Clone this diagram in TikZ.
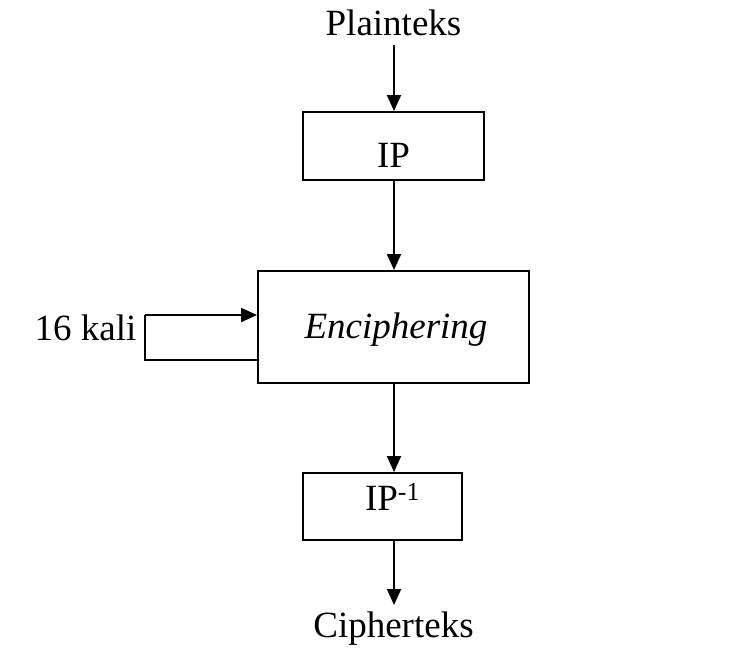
\documentclass[tikz,border=0pt]{standalone}
\usepackage{fontspec}
\setmainfont{Liberation Serif}
\usetikzlibrary{arrows.meta}
\begin{document}
\begin{tikzpicture}[x=1pt,y=-1pt,
  box/.style={draw,line width=2pt,inner sep=0pt,rectangle},
  txt/.style={anchor=base,inner sep=0pt,font=\fontsize{37}{44}\selectfont},
  conn/.style={line width=2pt,-{Triangle[length=16pt,width=14pt]}},
  plain/.style={line width=2pt}]
\useasboundingbox (0,0) rectangle (752,657);
% boxes
\node[box,minimum width=181pt,minimum height=68pt] (ip) at (393.5,146) {};
\node[box,minimum width=271pt,minimum height=112pt] (enc) at (393.5,327) {};
\node[box,minimum width=159pt,minimum height=67pt] (ipinv) at (382.5,506.5) {};
% texts
\node[txt] (plaintxt) at (393.5,35) {Plainteks};
\node[txt] (iptxt) at (393.5,167) {IP};
\node[txt] (enctxt) at (396,338) {\itshape Enciphering};
\node[txt] (ipinvtxt) at (392.5,510) {IP\textsuperscript{-1}};
\node[txt] (kalitxt) at (85.5,340) {16 kali};
\node[txt] (ciphtxt) at (393.5,637) {Cipherteks};
% coordinates
\coordinate (a0) at (394,45);
\coordinate (c1) at (394,605);
\coordinate (lt) at (145,315);
\coordinate (lb) at (145,360);
% connectors
\draw[conn] (a0) -- (a0 |- ip.north);
\draw[conn] (a0 |- ip.south) -- (a0 |- enc.north);
\draw[conn] (a0 |- enc.south) -- (a0 |- ipinv.north);
\draw[conn] (c1 |- ipinv.south) -- (c1);
\draw[plain] (enc.west |- lb) -- (lb) -- (lt);
\draw[conn] (lt) -- (enc.west |- lt);
\end{tikzpicture}
\end{document}
